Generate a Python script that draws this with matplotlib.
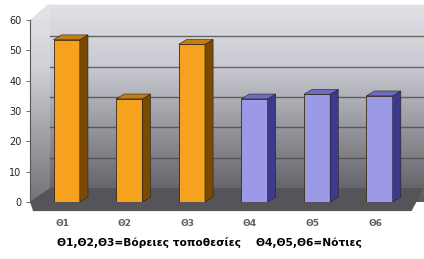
# -*- coding: utf-8 -*-

import numpy as np
import matplotlib.pyplot as plt
from matplotlib.patches import Polygon

# les données
categories = ['Θ1', 'Θ2', 'Θ3', 'Θ4', 'Θ5', 'Θ6']
values = [53.5, 34, 52, 34, 35.5, 35]
groupe = ['nord', 'nord', 'nord', 'sud', 'sud', 'sud']
yticks = [0, 10, 20, 30, 40, 50, 60]
legende = 'Θ1,Θ2,Θ3=Βόρειες τοποθεσίες    Θ4,Θ5,Θ6=Νότιες'

couleurs = {'nord': ('#f6a21e', '#7a4a00', '#c67c10'),
            'sud': ('#9c9ae6', '#3c3a8c', '#6e6cc0')}

fig = plt.figure(figsize=(4.24, 2.59), dpi=100)
fig.patch.set_facecolor('white')
ax = fig.add_axes([30/424, 57/259, 394/424, 202/259])

x0, x1 = -0.586, 5.71
y1 = 202/3.033
ax.set_xlim(x0, x1)
ax.set_ylim(0, y1)

# profondeur du mur et des barres (en unités des données)
dxw, dyw = 0.32, 4.6
dxb, dyb = 0.13, 1.6
w = 0.42

# mur du fond en dégradé
grad = np.linspace(0, 1, 256).reshape(-1, 1)
img = ax.imshow(grad, cmap=plt.matplotlib.colors.LinearSegmentedColormap.from_list(
    'g', ['#56565c', '#8e8e94', '#c8c8d0', '#e2e2e8']),
    extent=[x0, x1, -1.5, y1], origin='lower', aspect='auto', zorder=0)
mur = Polygon([(x0, -1.5), (x0, 60), (x0 + dxw * 0.9, y1 - 1.5), (x1, y1 - 1.5), (x1, -1.5)],
              closed=True, transform=ax.transData)
img.set_clip_path(mur)

# côté gauche un peu plus clair
ax.add_patch(Polygon([(x0, 0), (x0, 60), (x0 + dxw, 60 + dyw), (x0 + dxw, dyw)],
                     closed=True, facecolor='white', alpha=0.15, edgecolor='none', zorder=1))

# lignes de grille sur le mur du fond
for v in yticks[1:-1]:
    ax.plot([x0 + dxw, x1], [v + dyw, v + dyw], color='#4a4a4a', lw=1.0, alpha=0.8, zorder=1)

# sol
ax.add_patch(Polygon([(x0, 0), (x0 + dxw, dyw), (x1, dyw), (x1 - 0.2, -3.0), (x0 + 0.05, -3.0)],
                     closed=True, facecolor='#555559', edgecolor='none', zorder=1, clip_on=False))

# barres en pseudo 3D
x = np.arange(len(categories))
for xi, v, g in zip(x, values, groupe):
    face, cote, dessus = couleurs[g]
    ax.bar(xi, v, width=w, color=face, edgecolor='#3a2a10', linewidth=0.6, zorder=3)
    ax.add_patch(Polygon([(xi + w/2, 0), (xi + w/2 + dxb, dyb), (xi + w/2 + dxb, v + dyb), (xi + w/2, v)],
                         closed=True, facecolor=cote, edgecolor='#222222', lw=0.4, zorder=3))
    ax.add_patch(Polygon([(xi - w/2, v), (xi + w/2, v), (xi + w/2 + dxb, v + dyb), (xi - w/2 + dxb, v + dyb)],
                         closed=True, facecolor=dessus, edgecolor='#222222', lw=0.4, zorder=3))

# axes
for s in ['top', 'right', 'bottom']:
    ax.spines[s].set_visible(False)
ax.spines['left'].set_bounds(0, 60)
ax.spines['left'].set_color('#555555')
ax.spines['left'].set_linewidth(0.8)
ax.set_yticks(yticks)
ax.tick_params(axis='y', length=3, width=0.6, color='#555555', labelsize=7, pad=3, labelcolor='#222222')
ax.set_xticks(x - 0.07)
ax.set_xticklabels(categories, fontsize=6.5, color='#606060', fontweight='bold')
ax.tick_params(axis='x', length=0, pad=12)

fig.text(0.495, 16/259, legende, ha='center', va='center', fontsize=7.7, fontweight='bold')

fig.savefig('out.png', dpi=100)
